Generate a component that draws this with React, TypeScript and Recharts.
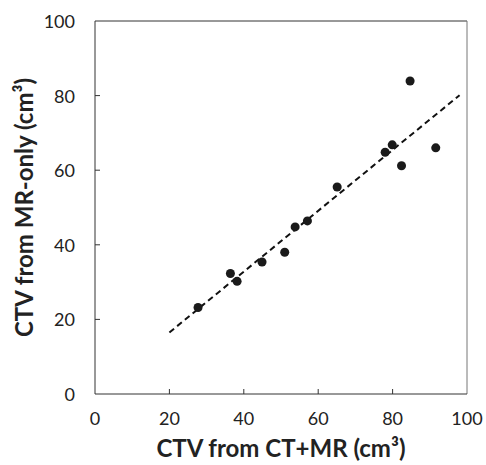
import { ScatterChart, Scatter, XAxis, YAxis, ZAxis, ReferenceLine } from "recharts"

// CT+MR volume vs MR-only volume (cm3)
const ctMr = [27.7, 36.4, 38.2, 44.9, 51.0, 53.8, 57.1, 65.1, 78.0, 79.9, 82.4, 84.7, 91.6]
const mrOnly = [23.2, 32.3, 30.2, 35.4, 38.0, 44.8, 46.4, 55.5, 64.8, 66.8, 61.2, 83.9, 66.0]

// dashed fit line end points
const trendX = [20, 98]
const trendY = [16.5, 80.1]

const ticks = [0, 20, 40, 60, 80, 100]

const points = ctMr.map((x, i) => ({ x, y: mrOnly[i] }))

const font = "Lato, 'Open Sans', sans-serif"

function XTick(props: any) {
  const { x, y, payload } = props
  const v = payload.value
  return (
    <g>
      {v > 0 && v < 100 && <line x1={x} y1={y} x2={x} y2={y - 5} stroke="#333" />}
      <text x={x} y={y + 24} textAnchor="middle" dominantBaseline="central" fontSize={18} fill="#222" fontFamily={font}>{v}</text>
    </g>
  )
}

function YTick(props: any) {
  const { x, y, payload } = props
  const v = payload.value
  return (
    <g>
      {v > 0 && v < 100 && <line x1={x} y1={y} x2={x + 5} y2={y} stroke="#333" />}
      <text x={x - 20} y={y} textAnchor="end" dominantBaseline="central" fontSize={18} fill="#222" fontFamily={font}>{v}</text>
    </g>
  )
}

export default function App() {
  return (
    <div style={{ position: "absolute", left: 0, top: 0, width: 486, height: 465, background: "#fff" }}>
      <ScatterChart width={486} height={465} margin={{ top: 21, right: 19, bottom: 0, left: 0 }} style={{ fontFamily: font }}>
        <XAxis type="number" dataKey="x" domain={[0, 100]} ticks={ticks} tickSize={0} tickMargin={0}
          tickLine={false} tick={<XTick />} stroke="#333" height={71}
          label={{ value: "CTV from CT+MR (cm³)", position: "insideBottom", offset: 8, fontSize: 24, fontWeight: 700, fill: "#222" }} />
        <YAxis type="number" dataKey="y" domain={[0, 100]} ticks={ticks} tickSize={0} tickMargin={0}
          tickLine={false} tick={<YTick />} stroke="#333" width={95}
          label={{ value: "CTV from MR-only (cm³)", angle: -90, position: "insideLeft", offset: 24, fontSize: 24, fontWeight: 700, fill: "#222", style: { textAnchor: "middle" } }} />
        <ZAxis range={[36, 36]} />
        <ReferenceLine y={100} stroke="#333" />
        <ReferenceLine x={100} stroke="#777" />
        <ReferenceLine segment={[{ x: trendX[0], y: trendY[0] }, { x: trendX[1], y: trendY[1] }]}
          stroke="#111" strokeWidth={2} strokeDasharray="6 4" />
        <Scatter data={points} fill="#1a1a1a" isAnimationActive={false} />
      </ScatterChart>
    </div>
  )
}
